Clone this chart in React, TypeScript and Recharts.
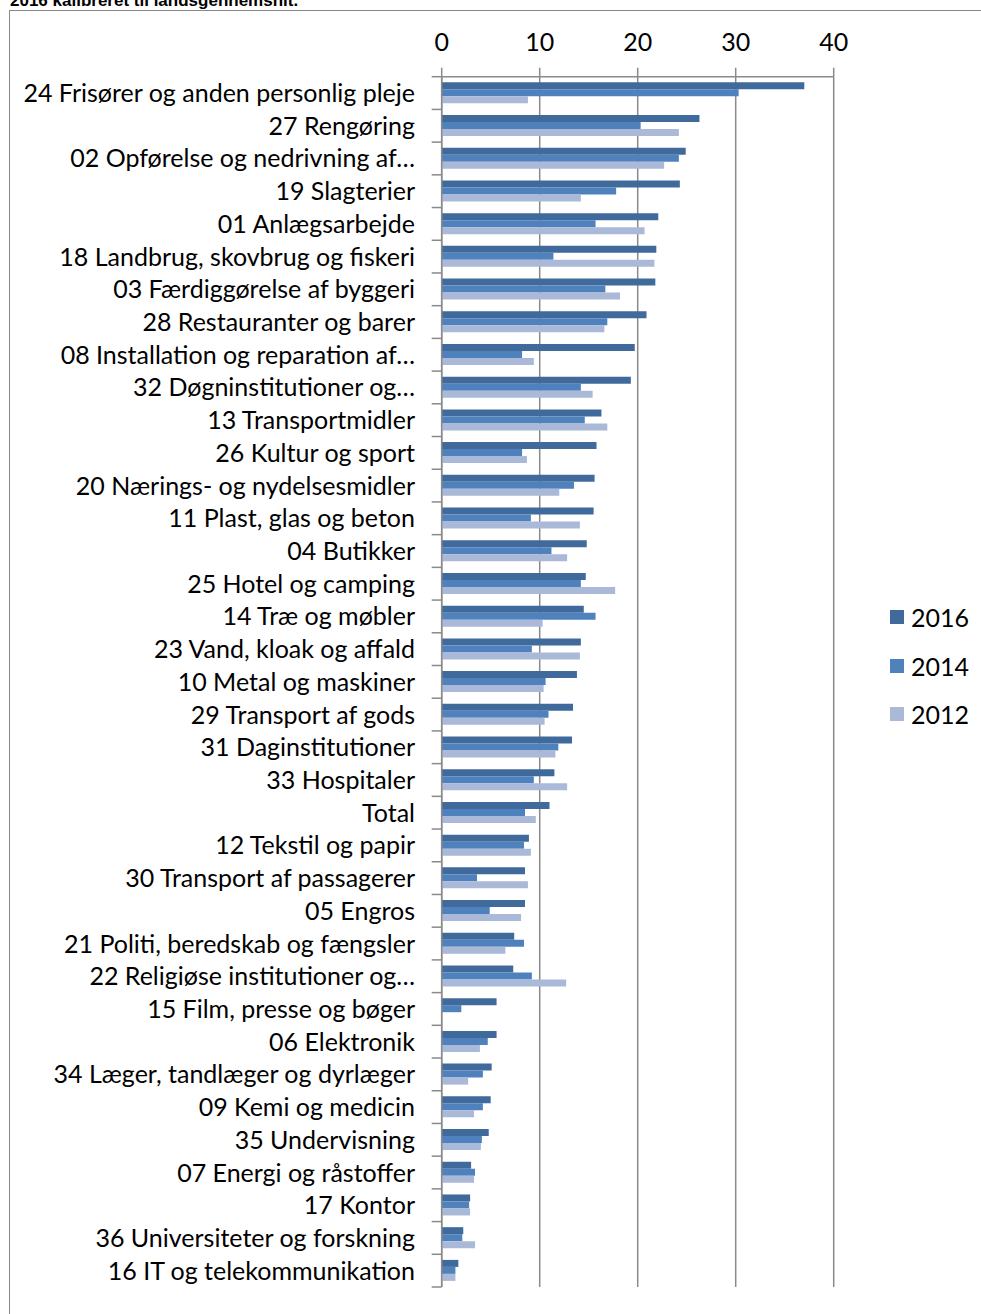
import React from 'react';
import { BarChart, Bar, XAxis, YAxis, CartesianGrid } from 'recharts';

const categories = [
  '24 Frisører og anden personlig pleje',
  '27 Rengøring',
  '02 Opførelse og nedrivning af…',
  '19 Slagterier',
  '01 Anlægsarbejde',
  '18 Landbrug, skovbrug og fiskeri',
  '03 Færdiggørelse af byggeri',
  '28 Restauranter og barer',
  '08 Installation og reparation af…',
  '32 Døgninstitutioner og…',
  '13 Transportmidler',
  '26 Kultur og sport',
  '20 Nærings- og nydelsesmidler',
  '11 Plast, glas og beton',
  '04 Butikker',
  '25 Hotel og camping',
  '14 Træ og møbler',
  '23 Vand, kloak og affald',
  '10 Metal og maskiner',
  '29 Transport af gods',
  '31 Daginstitutioner',
  '33 Hospitaler',
  'Total',
  '12 Tekstil og papir',
  '30 Transport af passagerer',
  '05 Engros',
  '21 Politi, beredskab og fængsler',
  '22 Religiøse institutioner og…',
  '15 Film, presse og bøger',
  '06 Elektronik',
  '34 Læger, tandlæger og dyrlæger',
  '09 Kemi og medicin',
  '35 Undervisning',
  '07 Energi og råstoffer',
  '17 Kontor',
  '36 Universiteter og forskning',
  '16 IT og telekommunikation',
];

const values2016 = [37.0, 26.3, 24.9, 24.3, 22.1, 21.9, 21.8, 20.9, 19.7, 19.3, 16.3, 15.8, 15.6, 15.5, 14.8, 14.7, 14.5, 14.2, 13.8, 13.4, 13.3, 11.5, 11.0, 8.9, 8.5, 8.5, 7.4, 7.3, 5.6, 5.6, 5.1, 5.0, 4.8, 3.0, 2.9, 2.2, 1.7];
const values2014 = [30.3, 20.3, 24.2, 17.8, 15.7, 11.4, 16.7, 16.9, 8.2, 14.2, 14.6, 8.2, 13.5, 9.1, 11.2, 14.2, 15.7, 9.2, 10.6, 10.9, 11.9, 9.4, 8.5, 8.4, 3.6, 4.9, 8.4, 9.2, 2.0, 4.7, 4.2, 4.2, 4.1, 3.4, 2.8, 2.1, 1.4];
const values2012 = [8.8, 24.2, 22.7, 14.2, 20.7, 21.7, 18.2, 16.6, 9.4, 15.4, 16.9, 8.7, 12.0, 14.1, 12.8, 17.7, 10.3, 14.1, 10.4, 10.5, 11.6, 12.8, 9.6, 9.1, 8.8, 8.1, 6.5, 12.7, 0, 3.9, 2.7, 3.3, 4.0, 3.3, 2.9, 3.4, 1.4];

const xTicks = [0, 10, 20, 30, 40];
const seriesNames = ['2016', '2014', '2012'];
const seriesColors = ['#406A9C', '#4F81BD', '#AAB9D8'];
const titleText = '2016 kalibreret til landsgennemsnit.';

const data = categories.map((name, i) => ({
  name,
  '2016': values2016[i],
  '2014': values2014[i],
  '2012': values2012[i],
}));

const W = 981;
const H = 1314;
const PLOT_TOP = 76.7;
const PLOT_BOTTOM = 1287;
const PLOT_LEFT = 441.7;
const PLOT_RIGHT = 833.7;
const X_AXIS_H = 40;
const Y_TICK = 10;
const Y_TICK_MARGIN = 16.7;
const BAND = (PLOT_BOTTOM - PLOT_TOP) / categories.length;
const GRID = '#8a8a8a';
const FONT = 'Lato, "Open Sans", sans-serif';
const FS = 25;

const YTick = (props: any) => {
  const { x, y, payload, index } = props;
  const axisX = x + Y_TICK + Y_TICK_MARGIN;
  return (
    <g>
      <line x1={axisX - Y_TICK} x2={axisX} y1={y - BAND / 2} y2={y - BAND / 2} stroke={GRID} strokeWidth={1.5} />
      {index === categories.length - 1 && (
        <line x1={axisX - Y_TICK} x2={axisX} y1={y + BAND / 2} y2={y + BAND / 2} stroke={GRID} strokeWidth={1.5} />
      )}
      <text x={x} y={y} dy="0.36em" textAnchor="end" fontFamily={FONT} fontSize={FS} fill="#000">
        {payload.value}
      </text>
    </g>
  );
};

export default function App() {
  return (
    <div style={{ position: 'absolute', left: 0, top: 0, width: W, height: H, overflow: 'hidden', background: '#fff' }}>
      <div style={{ position: 'absolute', left: 9, top: 10, width: 1100, height: 1400, border: '1.5px solid #888', boxSizing: 'border-box' }} />
      <svg style={{ position: 'absolute', left: 0, top: 0 }} width={W} height={20}>
        <text x={10} y={5.5} fontFamily='"Liberation Sans", Arial, sans-serif' fontWeight="bold" fontSize={17} fill="#000">
          {titleText}
        </text>
      </svg>
      <div style={{ position: 'absolute', left: 0, top: 0 }}>
        <BarChart
          width={W}
          height={H}
          data={data}
          layout="vertical"
          margin={{ top: PLOT_TOP - X_AXIS_H, bottom: H - PLOT_BOTTOM, left: 0, right: W - PLOT_RIGHT }}
          barCategoryGap={5.6}
          barGap={0}
        >
          <CartesianGrid horizontal={false} vertical stroke={GRID} strokeWidth={1.5} />
          <XAxis
            type="number"
            orientation="top"
            domain={[0, 40]}
            ticks={xTicks}
            height={X_AXIS_H}
            tickSize={9}
            tickMargin={16.7}
            axisLine={{ stroke: GRID, strokeWidth: 1.5 }}
            tickLine={{ stroke: GRID, strokeWidth: 1.5 }}
            tick={{ fontFamily: FONT, fontSize: FS, fill: '#000' }}
            interval={0}
          />
          <YAxis
            type="category"
            dataKey="name"
            width={PLOT_LEFT}
            tickSize={Y_TICK}
            tickMargin={Y_TICK_MARGIN}
            tickLine={false}
            axisLine={{ stroke: GRID, strokeWidth: 1.5 }}
            tick={<YTick />}
            interval={0}
          />
          {seriesNames.map((s, i) => (
            <Bar key={s} dataKey={s} fill={seriesColors[i]} isAnimationActive={false} />
          ))}
        </BarChart>
      </div>
      <div style={{ position: 'absolute', left: 890, top: 593, fontFamily: FONT, fontSize: FS, color: '#000' }}>
        {seriesNames.map((s, i) => (
          <div key={s} style={{ display: 'flex', alignItems: 'center', height: 48.5 }}>
            <span style={{ display: 'inline-block', width: 14, height: 14, background: seriesColors[i], marginRight: 7 }} />
            <span>{s}</span>
          </div>
        ))}
      </div>
    </div>
  );
}
